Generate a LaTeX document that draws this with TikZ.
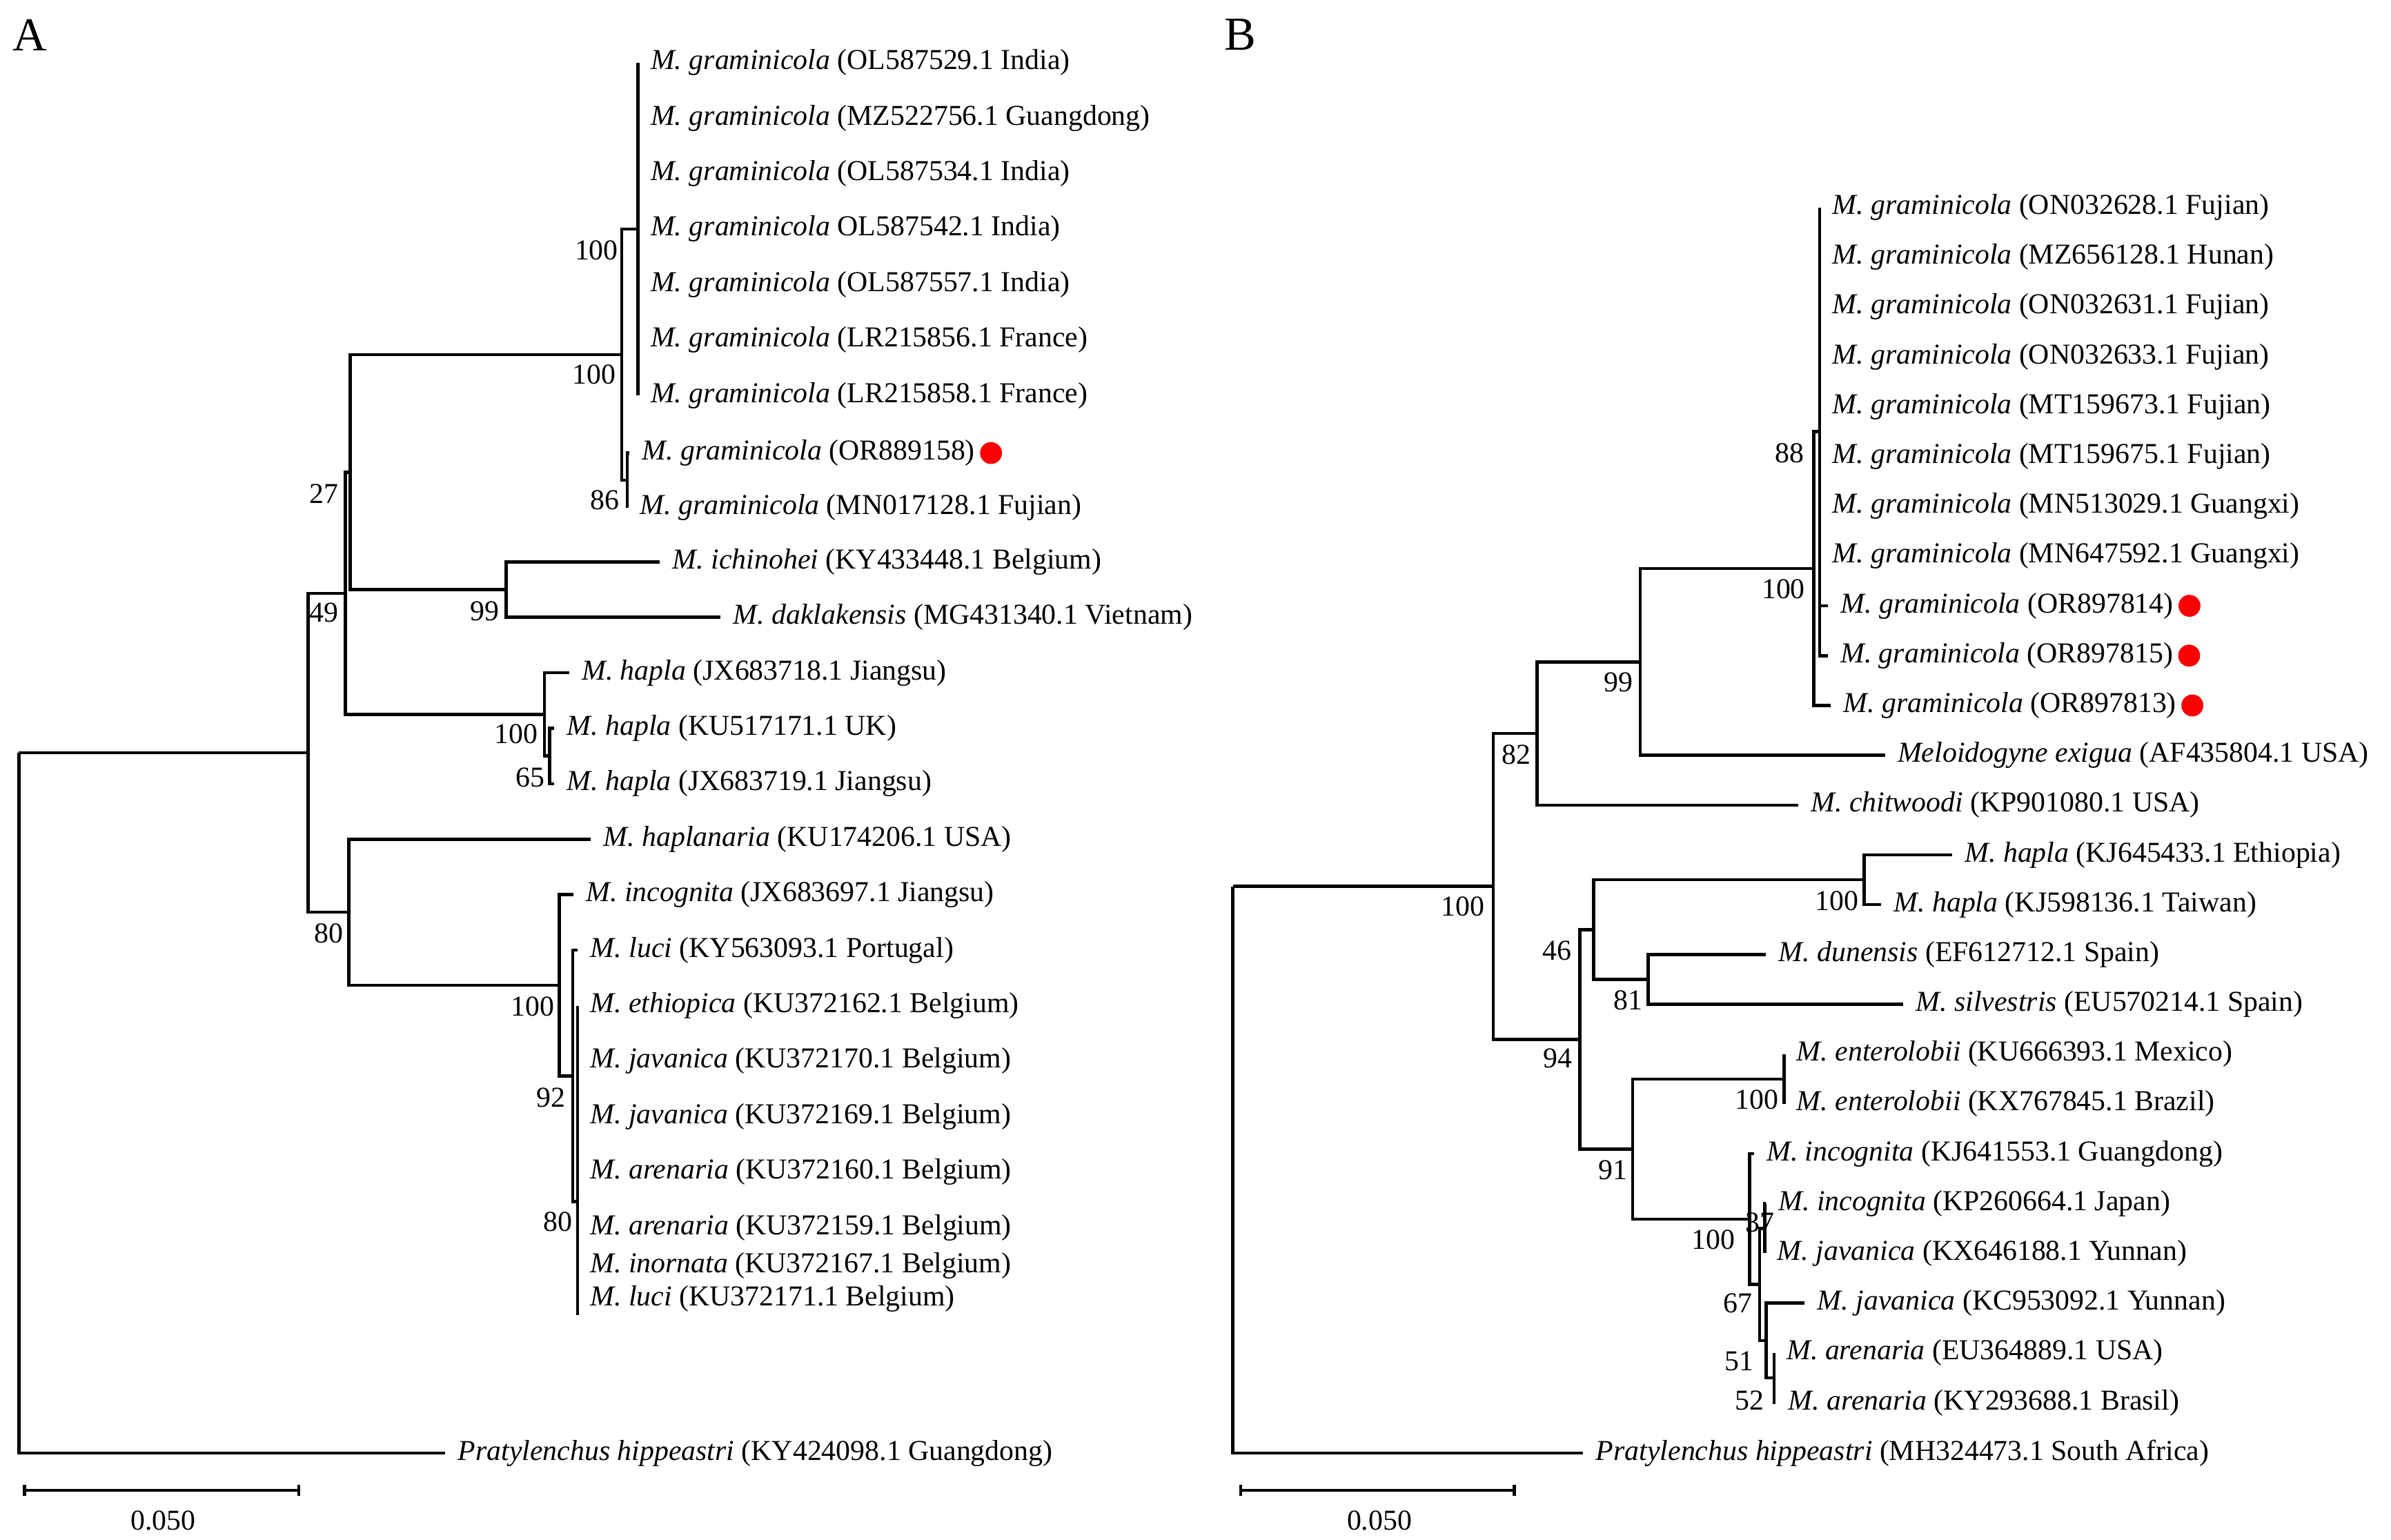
\documentclass[tikz,border=0pt]{standalone}
\usepackage{fontspec}
\setmainfont{Liberation Serif}
\usepackage{tikz}
\usetikzlibrary{positioning, arrows.meta}
\definecolor{dotred}{RGB}{250,0,0}

\begin{document}
\begin{tikzpicture}[
    x=0.02221cm, y=-0.02221cm,
    branch/.style={line width=1.3pt},
    taxon/.style={anchor=west, inner sep=0pt, xshift=0.1777cm, font=\fontsize{11.9}{14}\selectfont},
    boot/.style={anchor=east, inner sep=0pt, font=\fontsize{11.9}{14}\selectfont},
    scale text/.style={inner sep=0pt, font=\fontsize{11.9}{14}\selectfont},
    panel label/.style={inner sep=0pt, font=\fontsize{19.5}{22}\selectfont},
    sample dot/.style={circle, fill=dotred, inner sep=0pt, minimum size=0.318cm},
    scale bar/.style={line width=1.3pt, {Bar[width=0.16cm]}-{Bar[width=0.16cm]}}
]
    \useasboundingbox (0,0) rectangle (1560,1004.5);

    % ---------------- Panel A ----------------
    \node[panel label] (lab-a) at (19.5,23) {A};

    % Internal nodes
    \coordinate (rootA) at (12.3,491.2);
    \coordinate (nin) at (201,491.2);
    \coordinate (n49) at (225.4,387.1);
    \coordinate (n27) at (228.4,308.05);
    \coordinate (n100a) at (405.6,231.4);
    \coordinate (p7) at (416.3,149.4);
    \coordinate (n86) at (409.2,313.4);
    \coordinate (n99a) at (330.2,384.7);
    \coordinate (n100h) at (355.2,466.15);
    \coordinate (n65) at (358.5,493.3);
    \coordinate (n80a) at (227.5,595.25);
    \coordinate (n100i) at (365,642.9);
    \coordinate (n92) at (373.6,702);
    \coordinate (n80b) at (376.8,784);
    \coordinate (n80end) at (376.8,858);

    % M. graminicola polytomy
    \foreach \acc [count=\i] in {{(OL587529.1 India)}, {(MZ522756.1 Guangdong)}, {(OL587534.1 India)}, {OL587542.1 India)}, {(OL587557.1 India)}, {(LR215856.1 France)}, {(LR215858.1 France)}} {
        \pgfmathsetmacro{\yy}{40.8+36.2*(\i-1)}
        \coordinate (a\i) at (416.3,\yy);
        \node[taxon] (ta\i) at (a\i) {\textit{M. graminicola} \acc};
        \draw[branch] (p7) |- (a\i);
    }

    % Remaining taxa
    \coordinate (a8) at (410.8,295.6);
    \coordinate (a9) at (409.2,331.2);
    \coordinate (a10) at (430.6,366.6);
    \coordinate (a11) at (470.2,402.8);
    \coordinate (a12) at (371.3,439);
    \coordinate (a13) at (361.6,475.2);
    \coordinate (a14) at (361.6,511.4);
    \coordinate (a15) at (385.5,547.6);
    \coordinate (a16) at (374.2,583.8);
    \coordinate (a17) at (377,620);
    \coordinate (a25) at (290.5,948.2);
    \node[taxon] (ta8) at (a8) {\textit{M. graminicola} (OR889158)};
    \node[sample dot, right=1.7pt of ta8] (dot-a8) {};
    \node[taxon] (ta9) at (a9) {\textit{M. graminicola} (MN017128.1 Fujian)};
    \node[taxon] (ta10) at (a10) {\textit{M. ichinohei} (KY433448.1 Belgium)};
    \node[taxon] (ta11) at (a11) {\textit{M. daklakensis} (MG431340.1 Vietnam)};
    \node[taxon] (ta12) at (a12) {\textit{M. hapla} (JX683718.1 Jiangsu)};
    \node[taxon] (ta13) at (a13) {\textit{M. hapla} (KU517171.1 UK)};
    \node[taxon] (ta14) at (a14) {\textit{M. hapla} (JX683719.1 Jiangsu)};
    \node[taxon] (ta15) at (a15) {\textit{M. haplanaria} (KU174206.1 USA)};
    \node[taxon] (ta16) at (a16) {\textit{M. incognita} (JX683697.1 Jiangsu)};
    \node[taxon] (ta17) at (a17) {\textit{M. luci} (KY563093.1 Portugal)};
    \node[taxon] (ta25) at (a25) {\textit{Pratylenchus hippeastri} (KY424098.1 Guangdong)};

    % Tropical group polytomy
    \foreach \i/\yy/\txt in {18/656.2/{\textit{M. ethiopica} (KU372162.1 Belgium)}, 19/692.4/{\textit{M. javanica} (KU372170.1 Belgium)}, 20/728.6/{\textit{M. javanica} (KU372169.1 Belgium)}, 21/764.8/{\textit{M. arenaria} (KU372160.1 Belgium)}, 22/801/{\textit{M. arenaria} (KU372159.1 Belgium)}, 23/825.9/{\textit{M. inornata} (KU372167.1 Belgium)}, 24/847.7/{\textit{M. luci} (KU372171.1 Belgium)}} {
        \coordinate (a\i) at (376.8,\yy);
        \node[taxon] (ta\i) at (a\i) {\txt};
        \draw[branch] (n80b) |- (a\i);
    }
    \draw[branch] (n80b) -- (n80end);

    % Branches
    \foreach \p/\c in {rootA/nin, rootA/a25, nin/n49, nin/n80a, n49/n27, n49/n100h, n27/n100a, n27/n99a, n100a/p7, n100a/n86, n86/a8, n86/a9, n99a/a10, n99a/a11, n100h/a12, n100h/n65, n65/a13, n65/a14, n80a/a15, n80a/n100i, n100i/a16, n100i/n92, n92/a17, n92/n80b} {
        \draw[branch] (\p) |- (\c);
    }

    % Bootstrap values
    \node[boot] (bs-p7) at (403.6,163.4) {100};
    \node[boot] (bs-n100a) at (402,244.3) {100};
    \node[boot] (bs-n86) at (404.4,326.4) {86};
    \node[boot] (bs-n27) at (221.1,322.3) {27};
    \node[boot] (bs-n49) at (221.1,399.7) {49};
    \node[boot] (bs-n99a) at (326,398.7) {99};
    \node[boot] (bs-n100h) at (351.2,479) {100};
    \node[boot] (bs-n65) at (355.5,507.2) {65};
    \node[boot] (bs-n80a) at (224.3,609) {80};
    \node[boot] (bs-n100i) at (361.8,656.7) {100};
    \node[boot] (bs-n92) at (369,716.2) {92};
    \node[boot] (bs-n80b) at (373.5,797.4) {80};

    % Scale bar
    \coordinate (sa-l) at (14.9,972.5);
    \coordinate (sa-r) at (196,972.5);
    \draw[scale bar] (sa-l) -- (sa-r);
    \node[scale text] (sa-txt) at (106.5,992) {0.050};

    % ---------------- Panel B ----------------
    \node[panel label] (lab-b) at (809,22.5) {B};

    % Internal nodes
    \coordinate (rootB) at (804.3,578.36);
    \coordinate (n100b) at (974.3,578.36);
    \coordinate (n82) at (1002.8,478.58);
    \coordinate (n99b) at (1070.2,431.85);
    \coordinate (n100g) at (1183.4,370.93);
    \coordinate (p88) at (1187.2,281.55);
    \coordinate (n94) at (1030.8,678.15);
    \coordinate (n46) at (1039.7,606.55);
    \coordinate (n100hb) at (1216.2,574.05);
    \coordinate (n81) at (1075.2,639.05);
    \coordinate (n91) at (1065.2,749.75);
    \coordinate (n100e) at (1164,704.05);
    \coordinate (n100ib) at (1141.4,795.46);
    \coordinate (n67) at (1148.1,838.11);
    \coordinate (n37) at (1151.4,801.55);
    \coordinate (n51) at (1152.3,874.68);
    \coordinate (n52) at (1157.4,899.05);

    % M. graminicola polytomy
    \foreach \acc [count=\i] in {{(ON032628.1 Fujian)}, {(MZ656128.1 Hunan)}, {(ON032631.1 Fujian)}, {(ON032633.1 Fujian)}, {(MT159673.1 Fujian)}, {(MT159675.1 Fujian)}, {(MN513029.1 Guangxi)}, {(MN647592.1 Guangxi)}} {
        \pgfmathsetmacro{\yy}{135.3+32.5*(\i-1)}
        \coordinate (b\i) at (1187.2,\yy);
        \node[taxon] (tb\i) at (b\i) {\textit{M. graminicola} \acc};
        \draw[branch] (p88) |- (b\i);
    }

    % Remaining taxa
    \coordinate (b9) at (1192.7,395.3);
    \coordinate (b10) at (1192.5,427.8);
    \coordinate (b11) at (1194.6,460.3);
    \coordinate (b12) at (1229.8,492.8);
    \coordinate (b13) at (1173.2,525.3);
    \coordinate (b14) at (1273.6,557.8);
    \coordinate (b15) at (1227.3,590.3);
    \coordinate (b16) at (1152.2,622.8);
    \coordinate (b17) at (1241.7,655.3);
    \coordinate (b18) at (1164,687.8);
    \coordinate (b19) at (1164,720.3);
    \coordinate (b20) at (1144.3,752.8);
    \coordinate (b21) at (1152,785.3);
    \coordinate (b22) at (1151.4,817.8);
    \coordinate (b23) at (1177.5,850.3);
    \coordinate (b24) at (1157.4,882.8);
    \coordinate (b25) at (1158.5,915.3);
    \coordinate (b26) at (1033,948.2);
    \node[taxon] (tb9) at (b9) {\textit{M. graminicola} (OR897814)};
    \node[taxon] (tb10) at (b10) {\textit{M. graminicola} (OR897815)};
    \node[taxon] (tb11) at (b11) {\textit{M. graminicola} (OR897813)};
    \node[sample dot, right=1.7pt of tb9] (dot-b9) {};
    \node[sample dot, right=1.7pt of tb10] (dot-b10) {};
    \node[sample dot, right=1.7pt of tb11] (dot-b11) {};
    \node[taxon] (tb12) at (b12) {\textit{Meloidogyne exigua} (AF435804.1 USA)};
    \node[taxon] (tb13) at (b13) {\textit{M. chitwoodi} (KP901080.1 USA)};
    \node[taxon] (tb14) at (b14) {\textit{M. hapla} (KJ645433.1 Ethiopia)};
    \node[taxon] (tb15) at (b15) {\textit{M. hapla} (KJ598136.1 Taiwan)};
    \node[taxon] (tb16) at (b16) {\textit{M. dunensis} (EF612712.1 Spain)};
    \node[taxon] (tb17) at (b17) {\textit{M. silvestris} (EU570214.1 Spain)};
    \node[taxon] (tb18) at (b18) {\textit{M. enterolobii} (KU666393.1 Mexico)};
    \node[taxon] (tb19) at (b19) {\textit{M. enterolobii} (KX767845.1 Brazil)};
    \node[taxon] (tb20) at (b20) {\textit{M. incognita} (KJ641553.1 Guangdong)};
    \node[taxon] (tb21) at (b21) {\textit{M. incognita} (KP260664.1 Japan)};
    \node[taxon] (tb22) at (b22) {\textit{M. javanica} (KX646188.1 Yunnan)};
    \node[taxon] (tb23) at (b23) {\textit{M. javanica} (KC953092.1 Yunnan)};
    \node[taxon] (tb24) at (b24) {\textit{M. arenaria} (EU364889.1 USA)};
    \node[taxon] (tb25) at (b25) {\textit{M. arenaria} (KY293688.1 Brasil)};
    \node[taxon] (tb26) at (b26) {\textit{Pratylenchus hippeastri} (MH324473.1 South Africa)};

    % Branches
    \foreach \p/\c in {rootB/n100b, rootB/b26, n100b/n82, n100b/n94, n82/n99b, n82/b13, n99b/n100g, n99b/b12, n100g/p88, n100g/b11, p88/b9, p88/b10, n94/n46, n94/n91, n46/n100hb, n46/n81, n100hb/b14, n100hb/b15, n81/b16, n81/b17, n91/n100e, n91/n100ib, n100e/b18, n100e/b19, n100ib/b20, n100ib/n67, n67/n37, n67/n51, n37/b21, n37/b22, n51/b23, n51/n52, n52/b24, n52/b25} {
        \draw[branch] (\p) |- (\c);
    }

    % Bootstrap values
    \node[boot] (bs-p88) at (1177.5,295.5) {88};
    \node[boot] (bs-n100g) at (1178,384.5) {100};
    \node[boot] (bs-n99b) at (1065.7,445) {99};
    \node[boot] (bs-n82) at (999,492.5) {82};
    \node[boot] (bs-n100b) at (969,591.5) {100};
    \node[boot] (bs-n100hb) at (1213,588) {100};
    \node[boot] (bs-n46) at (1025.7,620.5) {46};
    \node[boot] (bs-n81) at (1072,652.5) {81};
    \node[boot] (bs-n94) at (1026,690.5) {94};
    \node[boot] (bs-n100e) at (1160.6,717.5) {100};
    \node[boot] (bs-n91) at (1062,763.5) {91};
    \node[boot] (bs-n100ib) at (1132.4,809) {100};
    \node[boot] (bs-n37) at (1158,797.7) {37};
    \node[boot] (bs-n67) at (1143.4,850.5) {67};
    \node[boot] (bs-n51) at (1144.4,888) {51};
    \node[boot] (bs-n52) at (1151.1,914) {52};

    % Scale bar
    \coordinate (sb-l) at (808.5,972.5);
    \coordinate (sb-r) at (989,972.5);
    \draw[scale bar] (sb-l) -- (sb-r);
    \node[scale text] (sb-txt) at (900,992) {0.050};
\end{tikzpicture}
\end{document}
